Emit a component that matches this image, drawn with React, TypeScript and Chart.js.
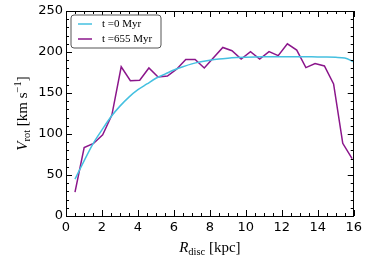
import React, { useEffect, useRef } from "react";
import { Chart, registerables } from "chart.js";

Chart.register(...registerables);

// ---- data ----
const radiusT0 = [0.5, 1.0, 1.5, 2.0, 2.5, 3.0, 3.5, 4.0, 4.5, 5.0, 5.5, 6.0, 6.5, 7.0, 7.5, 8.0, 8.5, 9.0, 9.5, 10.0, 10.5, 11.0, 11.5, 12.0, 12.5, 13.0, 13.5, 14.0, 14.5, 15.0, 15.5, 16.0];
const vrotT0 = [45, 67, 88, 105, 121, 134, 145, 154, 161, 168, 173, 178, 182, 185.5, 188, 190, 191.5, 192.5, 193.2, 193.7, 194, 194.2, 194.3, 194.3, 194.3, 194.2, 194.1, 194, 193.8, 193.5, 192.8, 188];

const radiusT655 = [0.5, 1.01, 1.53, 2.04, 2.55, 3.07, 3.58, 4.1, 4.61, 5.12, 5.64, 6.15, 6.66, 7.18, 7.69, 8.2, 8.72, 9.23, 9.74, 10.26, 10.77, 11.29, 11.8, 12.31, 12.83, 13.34, 13.85, 14.37, 14.88, 15.39, 15.91];
const vrotT655 = [29, 83.5, 88.5, 99, 123, 182, 165, 165.5, 180.5, 169.5, 170.7, 179, 191, 191, 180.5, 193, 205.5, 201.6, 191.5, 200.4, 191.5, 200.4, 195.5, 210, 202.4, 181, 186, 183, 161, 88.6, 70];

const seriesLabels = ["t =0 Myr", "t =655 Myr"];
const seriesColors = ["#45c0e0", "#8b168b"];

const xMin = 0, xMax = 16, xStep = 2, xMinorStep = 0.5;
const yMin = 0, yMax = 250, yStep = 50, yMinorStep = 10;

const xTitle = { main: "R", sub: "disc", rest: " [kpc]" };
const yTitle = { main: "V", sub: "rot", rest: " [km s", sup: "\u22121", end: "]" };

const SERIF = "'Liberation Serif', 'DejaVu Serif', serif";
const SANS = "'DejaVu Sans', sans-serif";

type Piece = { t: string; font: string; dy: number };

function drawPieces(ctx: CanvasRenderingContext2D, pieces: Piece[], cx: number, baseline: number) {
  let total = 0;
  const widths = pieces.map((p) => {
    ctx.font = p.font;
    const w = ctx.measureText(p.t).width;
    total += w;
    return w;
  });
  let x = cx - total / 2;
  ctx.textBaseline = "alphabetic";
  ctx.textAlign = "left";
  pieces.forEach((p, i) => {
    ctx.font = p.font;
    ctx.fillText(p.t, x, baseline + p.dy);
    x += widths[i];
  });
}

const framePlugin = {
  id: "frameTicks",
  afterDraw(chart: any) {
    const { ctx, chartArea } = chart;
    const { left, right, top, bottom } = chartArea;
    const xs = chart.scales.x;
    const ys = chart.scales.y;
    ctx.save();
    ctx.strokeStyle = "#000";
    ctx.lineWidth = 1;
    ctx.beginPath();
    const nx = Math.round((xMax - xMin) / xMinorStep);
    for (let i = 0; i <= nx; i++) {
      const v = xMin + i * xMinorStep;
      const px = Math.round(xs.getPixelForValue(v)) + 0.5;
      const major = Math.abs(v / xStep - Math.round(v / xStep)) < 1e-6;
      const len = major ? 6 : 3;
      ctx.moveTo(px, bottom);
      ctx.lineTo(px, bottom - len);
      ctx.moveTo(px, top);
      ctx.lineTo(px, top + len);
    }
    const ny = Math.round((yMax - yMin) / yMinorStep);
    for (let i = 0; i <= ny; i++) {
      const v = yMin + i * yMinorStep;
      const py = Math.round(ys.getPixelForValue(v)) + 0.5;
      const major = Math.abs(v / yStep - Math.round(v / yStep)) < 1e-6;
      const len = major ? 6 : 3;
      ctx.moveTo(left, py);
      ctx.lineTo(left + len, py);
      ctx.moveTo(right, py);
      ctx.lineTo(right - len, py);
    }
    ctx.stroke();
    ctx.strokeRect(Math.round(left) + 0.5, Math.round(top) + 0.5, Math.round(right - left) - 1, Math.round(bottom - top));

    // legend
    const lx = left + 5, ly = top + 4, lw = 90, lh = 33;
    ctx.beginPath();
    const r = 3;
    ctx.moveTo(lx + r, ly);
    ctx.lineTo(lx + lw - r, ly);
    ctx.arcTo(lx + lw, ly, lx + lw, ly + r, r);
    ctx.lineTo(lx + lw, ly + lh - r);
    ctx.arcTo(lx + lw, ly + lh, lx + lw - r, ly + lh, r);
    ctx.lineTo(lx + r, ly + lh);
    ctx.arcTo(lx, ly + lh, lx, ly + lh - r, r);
    ctx.lineTo(lx, ly + r);
    ctx.arcTo(lx, ly, lx + r, ly, r);
    ctx.closePath();
    ctx.fillStyle = "#fff";
    ctx.fill();
    ctx.strokeStyle = "#555";
    ctx.stroke();
    chart.data.datasets.forEach((ds: any, i: number) => {
      const rowY = ly + 9 + i * 15;
      ctx.beginPath();
      ctx.strokeStyle = ds.borderColor;
      ctx.lineWidth = 1.5;
      ctx.moveTo(lx + 7, rowY);
      ctx.lineTo(lx + 21, rowY);
      ctx.stroke();
      ctx.fillStyle = "#000";
      ctx.font = `11px ${SERIF}`;
      ctx.textAlign = "left";
      ctx.textBaseline = "middle";
      ctx.fillText(ds.label, lx + 31, rowY + 0.5);
    });

    // axis titles
    ctx.fillStyle = "#000";
    drawPieces(
      ctx,
      [
        { t: xTitle.main, font: `italic 15px ${SERIF}`, dy: 0 },
        { t: xTitle.sub, font: `10.5px ${SERIF}`, dy: 3 },
        { t: xTitle.rest, font: `15px ${SERIF}`, dy: 0 },
      ],
      (left + right) / 2,
      252
    );
    ctx.save();
    ctx.translate(27, (top + bottom) / 2);
    ctx.rotate(-Math.PI / 2);
    drawPieces(
      ctx,
      [
        { t: yTitle.main, font: `italic 15px ${SERIF}`, dy: 0 },
        { t: yTitle.sub, font: `10.5px ${SERIF}`, dy: 3 },
        { t: yTitle.rest, font: `15px ${SERIF}`, dy: 0 },
        { t: yTitle.sup, font: `10.5px ${SERIF}`, dy: -6 },
        { t: yTitle.end, font: `15px ${SERIF}`, dy: 0 },
      ],
      0,
      0
    );
    ctx.restore();
    ctx.restore();
  },
};

export default function App() {
  const ref = useRef<HTMLCanvasElement | null>(null);
  useEffect(() => {
    document.body.style.margin = "0";
    document.body.style.overflow = "hidden";
    if (!ref.current) return;
    const chart = new Chart(ref.current, {
      type: "line",
      data: {
        datasets: [
          {
            label: seriesLabels[0],
            data: radiusT0.map((x, i) => ({ x, y: vrotT0[i] })),
            borderColor: seriesColors[0],
            borderWidth: 1.5,
            pointRadius: 0,
            cubicInterpolationMode: "monotone",
            fill: false,
          },
          {
            label: seriesLabels[1],
            data: radiusT655.map((x, i) => ({ x, y: vrotT655[i] })),
            borderColor: seriesColors[1],
            borderWidth: 1.5,
            pointRadius: 0,
            tension: 0,
            fill: false,
          },
        ],
      },
      options: {
        responsive: false,
        animation: false,
        events: [],
        layout: { padding: { left: 0, top: 11, right: 11, bottom: 0 } },
        plugins: { legend: { display: false }, tooltip: { enabled: false }, title: { display: false } },
        scales: {
          x: {
            type: "linear",
            min: xMin,
            max: xMax,
            grid: { display: false, drawTicks: false },
            border: { display: false },
            ticks: { stepSize: xStep, color: "#000", padding: 4, font: { family: SANS, size: 13 } },
            afterFit: (s: any) => {
              s.height = 45;
            },
          },
          y: {
            type: "linear",
            min: yMin,
            max: yMax,
            grid: { display: false, drawTicks: false },
            border: { display: false },
            ticks: { stepSize: yStep, color: "#000", padding: 3, font: { family: SANS, size: 13 } },
            afterFit: (s: any) => {
              s.width = 66;
            },
          },
        },
      },
      plugins: [framePlugin],
    } as any);
    return () => chart.destroy();
  }, []);
  return <canvas ref={ref} width={366} height={261} style={{ display: "block", width: 366, height: 261 }} />;
}
